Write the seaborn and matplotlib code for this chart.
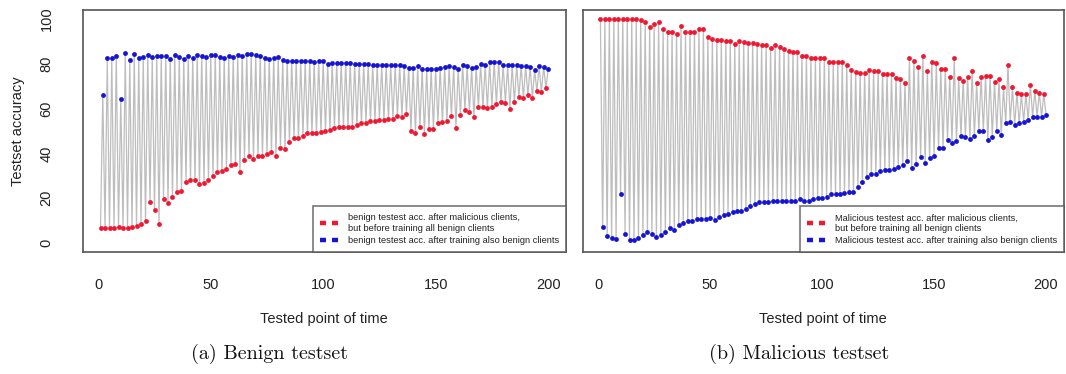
import numpy as np
import pandas as pd
import matplotlib
matplotlib.use("Agg")
import matplotlib.pyplot as plt
from matplotlib.lines import Line2D
import seaborn as sns

# Benign testset: accuracy right after the malicious clients (red) and
# after the benign clients have trained as well (blue), 100 rounds each.
benign_before = [
    6.8, 6.8, 6.8, 6.8, 7.1, 6.8, 6.8, 7.4, 7.8, 8.6, 9.8, 18.2, 14.7, 8.4, 19.7, 18.1,
    20.5, 23.0, 23.3, 27.4, 28.3, 28.0, 26.2, 26.8, 28.3, 30.1, 31.6, 32.3, 33.1, 34.7,
    35.2, 31.9, 37.2, 38.8, 37.5, 38.8, 38.8, 39.9, 40.8, 39.1, 42.4, 42.1, 45.1, 46.8,
    46.9, 48.0, 49.0, 49.0,
    49.3, 49.5, 49.9, 50.5, 51.4, 51.7, 51.9, 51.9, 52.0, 52.8, 53.4, 53.8, 54.4, 54.4,
    54.9, 54.9, 55.2, 55.3, 56.7, 56.5, 57.7, 50.2, 49.2, 51.7, 48.6, 51.1, 51.1, 53.8,
    54.0, 54.4, 56.7, 51.4, 57.3, 59.4, 58.5, 56.2, 60.6, 60.6, 60.2, 60.9, 62.1, 62.9,
    62.7, 59.9, 62.9, 65.1, 64.7, 65.9, 64.8, 67.7, 67.4, 69.2,
]
benign_after = [
    66.3, 82.4, 82.4, 83.5, 64.2, 84.8, 81.7, 84.5, 82.4, 83.0, 84.1, 83.0, 83.5, 83.5,
    83.5, 82.3, 84.1, 83.0, 82.3, 83.6, 82.7, 84.1, 83.6, 83.0, 83.8, 84.1, 83.0, 82.7,
    83.5, 83.0, 83.8, 83.6, 84.5, 84.2, 84.1, 83.3, 82.6, 82.3, 82.7, 83.0, 81.7, 81.4,
    81.2, 81.2, 81.2, 81.2, 81.2, 80.9,
    81.2, 81.2, 80.0, 80.5, 80.5, 80.5, 80.5, 80.5, 80.0, 80.0, 80.0, 80.0, 79.6, 79.4,
    79.4, 79.4, 79.4, 79.4, 79.4, 78.9, 78.3, 78.3, 78.9, 77.9, 77.6, 77.6, 77.6, 78.3,
    78.7, 78.9, 78.7, 77.9, 79.6, 78.9, 78.3, 78.7, 80.0, 79.6, 80.8, 80.8, 80.8, 79.4,
    79.4, 79.4, 79.4, 79.1, 79.1, 78.7, 77.3, 78.9, 78.7, 77.6,
]

# Malicious testset, same two measurements.
malicious_before = [
    100.0, 100.0, 100.0, 100.0, 100.0, 100.0, 100.0, 100.0, 100.0, 99.4, 98.8, 96.5,
    97.7, 98.8, 95.5, 94.3, 94.3, 93.5, 96.7, 94.3, 94.3, 94.3, 95.5, 95.5, 91.9, 91.3,
    90.7, 90.7, 90.2, 90.1, 88.9, 90.1, 89.6, 89.5, 89.3, 88.9, 88.4, 88.3, 87.1, 88.4,
    87.4, 86.6, 85.9, 85.4, 85.4, 83.6, 83.5, 82.4, 82.4, 82.4, 82.4, 80.8,
    80.8, 80.8, 80.8, 79.6, 77.1, 76.5, 75.9, 75.9, 77.1, 76.7, 76.7, 75.5, 75.5, 75.3,
    73.7, 73.1, 71.6, 82.4, 81.4, 78.7, 83.6, 76.7, 80.8, 80.3, 77.7, 77.7, 74.1, 82.4,
    73.7, 72.5, 74.1, 77.0, 71.3, 74.1, 74.7, 74.7, 72.0, 73.1, 69.5, 79.6, 69.5, 67.1,
    66.5, 66.5, 70.7, 67.8, 67.2, 66.6,
]
malicious_after = [
    7.1, 3.0, 2.3, 1.7, 22.1, 4.2, 1.2, 1.2, 2.4, 3.6, 4.8, 4.2, 2.9, 3.6, 4.8, 6.8,
    5.9, 8.3, 9.0, 9.9, 9.8, 10.7, 10.7, 10.7, 11.1, 10.5, 11.7, 12.5, 13.1, 14.0, 14.3,
    14.3, 15.2, 16.7, 17.6, 18.2, 18.5, 18.5, 19.0, 19.0, 19.0, 19.0, 19.0, 19.0, 19.6,
    18.7, 18.7, 19.6,
    20.3, 20.3, 20.8, 21.8, 21.8, 21.8, 22.3, 22.9, 22.9, 25.1, 27.1, 29.3, 30.7, 31.0,
    32.3, 32.6, 32.6, 33.1, 34.0, 34.7, 36.5, 33.5, 35.3, 38.4, 35.9, 37.8, 39.1, 42.6,
    42.6, 45.9, 44.7, 45.4, 47.7, 47.2, 46.5, 47.7, 50.1, 50.1, 45.9, 47.4, 50.1, 48.1,
    53.5, 54.0, 52.8, 53.5, 54.1, 55.0, 56.5, 56.5, 56.5, 57.3,
]

panel_titles = ["(a) Benign testset", "(b) Malicious testset"]
legend_labels = [
    ["benign testest acc. after malicious clients,\nbut before training all benign clients",
     "benign testest acc. after training also benign clients"],
    ["Malicious testest acc. after malicious clients,\nbut before training all benign clients",
     "Malicious testest acc. after training also benign clients"],
]
x_ticks = [0, 50, 100, 150, 200]
y_ticks = [0, 20, 40, 60, 80, 100]

RED = "#ee1830"
BLUE = "#1414d2"
GREY_LINE = "#bdbdbd"
FRAME = "#555555"

sns.set_theme(style="white")
plt.rcParams["font.family"] = ["Liberation Sans", "DejaVu Sans"]


def series_frame(before, after):
    n = len(before)
    t_before = np.arange(1, 2 * n, 2)
    t_after = np.arange(2, 2 * n + 1, 2)
    rows = []
    for tb, vb, ta, va in zip(t_before, before, t_after, after):
        rows.append((tb, vb, "before"))
        rows.append((ta, va, "after"))
    return pd.DataFrame(rows, columns=["time", "acc", "stage"])


fig = plt.figure(figsize=(10.66, 3.74), dpi=100)
axes = [fig.add_axes([0.0775, 0.326, 0.4535, 0.647]),
        fig.add_axes([0.5465, 0.326, 0.4515, 0.647])]

panels = [(benign_before, benign_after), (malicious_before, malicious_after)]
caption_x = [0.253, 0.750]

for i, (ax, (before, after)) in enumerate(zip(axes, panels)):
    df = series_frame(before, after)
    sns.lineplot(data=df, x="time", y="acc", sort=False, estimator=None,
                 color=GREY_LINE, linewidth=0.9, ax=ax, zorder=1)
    sns.scatterplot(data=df[df.stage == "before"], x="time", y="acc",
                    color=RED, s=12, linewidth=0, ax=ax, zorder=3)
    sns.scatterplot(data=df[df.stage == "after"], x="time", y="acc",
                    color=BLUE, s=12, linewidth=0, ax=ax, zorder=3)

    t_max = df.time.max()
    pad_x = 0.04 * (t_max - 1)
    ax.set_xlim(1 - pad_x, t_max + pad_x)
    ax.set_ylim(-4, 104)
    ax.set_xticks(x_ticks)
    ax.set_yticks(y_ticks)
    ax.tick_params(axis="both", direction="out", length=8, width=0.9,
                   color="#333333", labelsize=10.5, labelcolor="#222222")
    ax.tick_params(axis="x", pad=11)
    ax.tick_params(axis="y", pad=13, labelrotation=90)
    for lbl in ax.get_yticklabels():
        lbl.set_va("center")
    if i == 1:
        ax.tick_params(axis="y", labelleft=False)
    for sp in ax.spines.values():
        sp.set_visible(True)
        sp.set_color(FRAME)
        sp.set_linewidth(1.2)
    ax.set_xlabel("Tested point of time", fontsize=10.5, color="#222222", labelpad=14)
    if i == 0:
        ax.set_ylabel("Testset accuracy", fontsize=10.5, color="#222222")
        ax.yaxis.set_label_coords(-0.12, 0.5)
    else:
        ax.set_ylabel("")

    dash = (0, (1.35, 1.35))
    handles = [Line2D([], [], color=RED, linestyle=dash, linewidth=3.2),
               Line2D([], [], color=BLUE, linestyle=dash, linewidth=3.2)]
    leg = ax.legend(handles, legend_labels[i], loc="lower right", fontsize=6.7,
                    frameon=True, fancybox=False, borderaxespad=0,
                    handlelength=2.0, handletextpad=0.95, labelspacing=0.35,
                    borderpad=0.75, labelcolor="#222222")
    leg.get_frame().set_edgecolor(FRAME)
    leg.get_frame().set_linewidth(1.2)

    fig.text(caption_x[i], 0.053, panel_titles[i],
             ha="center", va="center", fontsize=14.5,
             family=["cmr10", "DejaVu Serif"], color="#111111")

fig.savefig("out.png", dpi=100)
